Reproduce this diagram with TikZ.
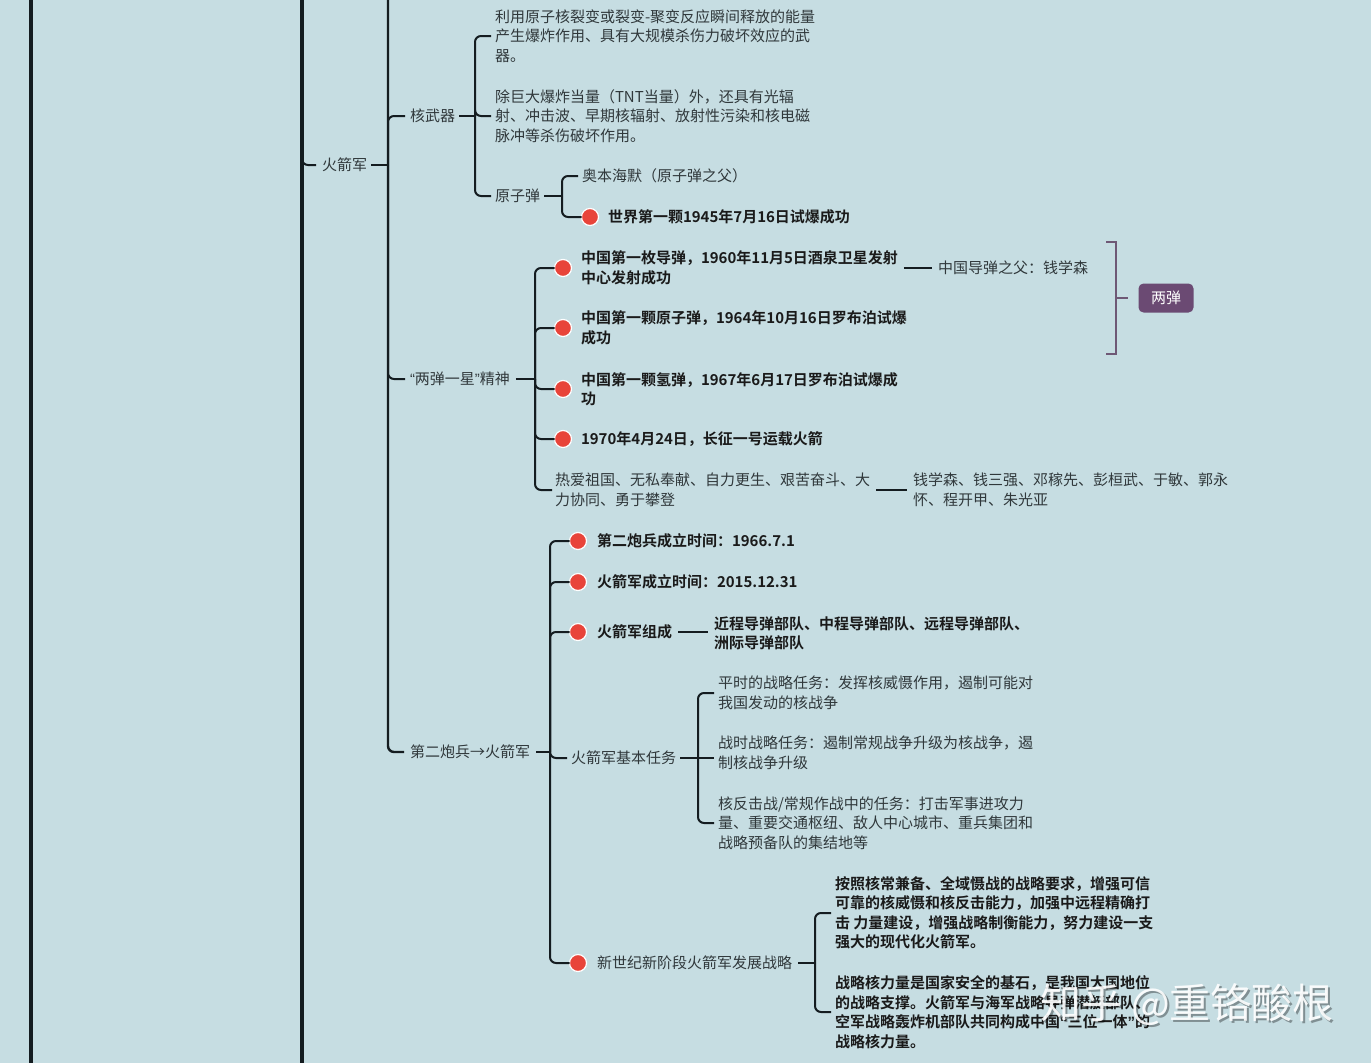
\documentclass[tikz,border=0pt]{standalone}
\usepackage{fontspec}
\setmainfont{Noto Sans CJK SC}[BoldFont={Noto Sans CJK SC Bold}]
\newfontfamily\qf{Liberation Sans}
\definecolor{bg}{HTML}{C6DDE2}
\definecolor{ln}{HTML}{141C20}
\definecolor{txt}{HTML}{30383B}
\definecolor{btxt}{HTML}{1A1A1A}
\definecolor{reddot}{HTML}{E8443A}
\definecolor{purp}{HTML}{6B4A73}
\definecolor{brk}{HTML}{6E5875}
\newcommand\fs{\fontsize{15}{19.5}\selectfont}
\newcommand\myLQ{{\qf “}}
\newcommand\myRQ{{\qf ”}}
\begin{document}
\begin{tikzpicture}[x=1pt,y=-1pt,
  every node/.style={inner sep=0pt, outer sep=0pt, anchor=west, font=\fs, text=txt, align=left},
  br/.style={draw=ln, line width=2pt, rounded corners=6pt},
  trunk/.style={draw=ln, line width=3.2pt},
  dotn/.style={circle, fill=reddot, draw=white, line width=1.2pt, minimum size=17pt, anchor=center},
  bt/.style={font=\fs\bfseries, text=btxt},
  pbox/.style={anchor=center, fill=purp, rounded corners=5pt, minimum width=55pt, minimum height=29pt, text=white},
  pbr/.style={draw=brk, line width=2pt},
]
\fill[bg] (0,0) rectangle (1371,1063);
\useasboundingbox (0,0) rectangle (1371,1063);

% vertical trunk coordinates
\coordinate (va) at (31,0);
\coordinate (vb) at (302,0);
\coordinate (v1) at (388,0);
\coordinate (v2) at (475,0);
\coordinate (v3) at (562,0);
\coordinate (v4) at (535,0);
\coordinate (v5) at (550,0);
\coordinate (v6) at (815,0);
\coordinate (v7) at (698,0);

% ---------- nodes ----------
\node (hjj) at (322,165) {火箭军};
\node (hwq) at (410,116) {核武器};
\node (t1) at (495,36) {利用原子核裂变或裂变-聚变反应瞬间释放的能量\\产生爆炸作用、具有大规模杀伤力破坏效应的武\\器。};
\node (t2) at (495,116) {除巨大爆炸当量（TNT当量）外，还具有光辐\\射、冲击波、早期核辐射、放射性污染和核电磁\\脉冲等杀伤破坏作用。};
\node (yzd) at (495,196) {原子弹};
\node (abhm) at (582,176) {奥本海默（原子弹之父）};
\node[dotn] (d0) at (590,217) {};
\node[bt] (sj) at (608,217) {世界第一颗1945年7月16日试爆成功};

\node (ldyx) at (410,379) {\myLQ 两弹一星\myRQ 精神};
\node[dotn] (d1) at (563,268) {};
\node[dotn] (d2) at (563,328) {};
\node[dotn] (d3) at (563,389) {};
\node[dotn] (d4) at (563,439) {};
\node[bt] (e1) at (581,268) {中国第一枚导弹，1960年11月5日酒泉卫星发射\\中心发射成功};
\node[bt] (e2) at (581,328) {中国第一颗原子弹，1964年10月16日罗布泊试爆\\成功};
\node[bt] (e3) at (581,389) {中国第一颗氢弹，1967年6月17日罗布泊试爆成\\功};
\node[bt] (e4) at (581,439) {1970年4月24日，长征一号运载火箭};
\node (rxz) at (555,490) {热爱祖国、无私奉献、自力更生、艰苦奋斗、大\\力协同、勇于攀登};
\node (qxs) at (938,268) {中国导弹之父：钱学森};
\node (names) at (913,490) {钱学森、钱三强、邓稼先、彭桓武、于敏、郭永\\怀、程开甲、朱光亚};
\node[pbox] (ld) at (1166,298) {两弹};

\node (dsb) at (410,752) {第二炮兵→火箭军};
\node[dotn] (f1) at (578,541) {};
\node[dotn] (f2) at (578,582) {};
\node[dotn] (f3) at (578,632) {};
\node[dotn] (f5) at (578,963) {};
\node[bt] (g1) at (597,541) {第二炮兵成立时间：1966.7.1};
\node[bt] (g2) at (597,582) {火箭军成立时间：2015.12.31};
\node[bt] (g3) at (597,632) {火箭军组成};
\node[bt] (g3b) at (714,633) {近程导弹部队、中程导弹部队、远程导弹部队、\\洲际导弹部队};
\node (jbrw) at (571,758) {火箭军基本任务};
\node (r1) at (718,693) {平时的战略任务：发挥核威慑作用，遏制可能对\\我国发动的核战争};
\node (r2) at (718,753) {战时战略任务：遏制常规战争升级为核战争，遏\\制核战争升级};
\node (r3) at (718,823) {核反击战/常规作战中的任务：打击军事进攻力\\量、重要交通枢纽、敌人中心城市、重兵集团和\\战略预备队的集结地等};
\node (g5) at (597,963) {新世纪新阶段火箭军发展战略};
\node[bt] (s1) at (835,913) {按照核常兼备、全域慑战的战略要求，增强可信\\可靠的核威慑和核反击能力，加强中远程精确打\\击 力量建设，增强战略制衡能力，努力建设一支\\强大的现代化火箭军。};
\node[bt] (s2) at (835,1012) {战略核力量是国家安全的基石，是我国大国地位\\的战略支撑。火箭军与海军战略导弹潜艇部队、\\空军战略轰炸机部队共同构成中国\myLQ 三位一体\myRQ 的\\战略核力量。};

% ---------- trunks ----------
\draw[trunk] (va) -- (31,1063);
\draw[trunk] (vb) -- (302,1063);
\draw[br] (302,150) |- ([xshift=-6pt]hjj.west);

% 火箭军
\draw[br] ([xshift=4pt]hjj.east) -- (v1 |- hjj.east);
\draw[br, line width=2.4pt] (v1) |- ([xshift=-6pt]dsb.west);
\draw[br] (v1 |- hjj.east) |- ([xshift=-5pt]hwq.west);
\draw[br] (v1 |- hjj.east) |- ([xshift=-5pt]ldyx.west);

% 核武器
\draw[br] ([xshift=4pt]hwq.east) -- (v2 |- hwq.east);
\draw[br] (v2 |- hwq.east) |- ([xshift=-4pt]t1.west);
\draw[br] (v2 |- hwq.east) |- ([xshift=-4pt]t2.west);
\draw[br] (v2 |- hwq.east) |- ([xshift=-4pt]yzd.west);

% 原子弹
\draw[br] ([xshift=4pt]yzd.east) -- (v3 |- yzd.east);
\draw[br] (v3 |- yzd.east) |- ([xshift=-4pt]abhm.west);
\draw[br] (v3 |- yzd.east) |- (d0.west);

% 两弹一星精神
\draw[br] ([xshift=6pt]ldyx.east) -- (v4 |- ldyx.east);
\draw[br] (v4 |- ldyx.east) |- (d1.west);
\draw[br] (v4 |- ldyx.east) |- (d2.west);
\draw[br] (v4 |- ldyx.east) |- (d3.west);
\draw[br] (v4 |- ldyx.east) |- (d4.west);
\draw[br] (v4 |- ldyx.east) |- ([xshift=-3pt]rxz.west);
\draw[br] ([xshift=6pt]e1.east) -- ([xshift=-6pt]qxs.west);
\draw[br] ([xshift=6pt]rxz.east) -- ([xshift=-6pt]names.west);

% purple bracket
\draw[pbr] (1106,242) -- (1116,242) -- (1116,354) -- (1106,354);
\draw[pbr] (1116,298) -- ([xshift=-11pt]ld.west);

% 第二炮兵→火箭军
\draw[br] ([xshift=6pt]dsb.east) -- (v5 |- dsb.east);
\draw[br] (v5 |- dsb.east) |- (f1.west);
\draw[br] (v5 |- dsb.east) |- (f2.west);
\draw[br] (v5 |- dsb.east) |- (f3.west);
\draw[br] (v5 |- dsb.east) |- ([xshift=-4pt]jbrw.west);
\draw[br] (v5 |- dsb.east) |- (f5.west);
\draw[br] ([xshift=6pt]g3.east) -- ([xshift=-6pt]g3b.west |- g3.east);

% 火箭军基本任务
\draw[br] ([xshift=4pt]jbrw.east) -- (v7 |- jbrw.east);
\draw[br] (v7 |- jbrw.east) |- ([xshift=-4pt]r1.west);
\draw[br] (v7 |- jbrw.east) -- ([xshift=-4pt]r2.west |- jbrw.east);
\draw[br] (v7 |- jbrw.east) |- ([xshift=-4pt]r3.west);

% 发展战略
\draw[br] ([xshift=6pt]g5.east) -- (v6 |- g5.east);
\draw[br] (v6 |- g5.east) |- ([xshift=-4pt]s1.west);
\draw[br] (v6 |- g5.east) |- ([xshift=-4pt]s2.west);

% watermark
\node[font=\fontsize{41}{41}\selectfont, text=black, opacity=0.35] (wmsh) at (1042,1007) {知乎 @重铬酸根};
\node[font=\fontsize{41}{41}\selectfont, text=white, opacity=0.9] (wm) at (1040,1005) {知乎 @重铬酸根};
\end{tikzpicture}
\end{document}
